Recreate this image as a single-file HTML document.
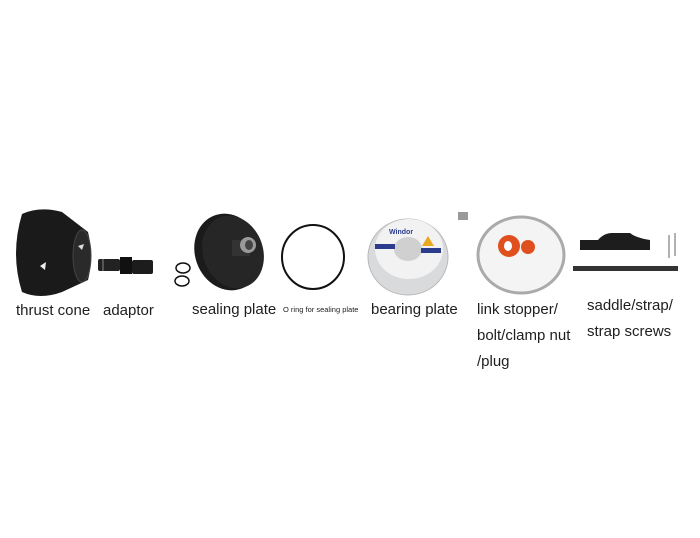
<!DOCTYPE html>
<html><head><meta charset="utf-8"><style>
html,body{margin:0;padding:0;background:#fff;}
body{width:700px;height:538px;position:relative;overflow:hidden;font-family:"Liberation Sans",sans-serif;color:#1e1e1e;}
.t{position:absolute;font-size:15px;white-space:nowrap;}
svg{position:absolute;left:0;top:0;}
</style></head><body>
<svg width="700" height="538">
<!-- thrust cone -->
<path d="M22 214 Q40 206 62 212 L88 232 Q94 256 88 280 L62 292 Q40 300 22 292 Q10 254 22 214Z" fill="#1a1a1a"/>
<ellipse cx="82" cy="256" rx="9" ry="26" fill="#2a2a2a" stroke="#444"/>
<path d="M40 266 L46 262 L45 270Z" fill="#eee"/>
<path d="M78 246 L84 244 L82 250Z" fill="#ddd"/>
<!-- adaptor -->
<rect x="98" y="259" width="22" height="12" rx="2" fill="#222"/>
<rect x="120" y="257" width="12" height="17" fill="#111"/>
<rect x="132" y="260" width="21" height="14" rx="2" fill="#1c1c1c"/>
<line x1="103" y1="259" x2="103" y2="271" stroke="#888"/>
<!-- o-rings -->
<ellipse cx="183" cy="268" rx="7" ry="5" fill="none" stroke="#111" stroke-width="1.5"/>
<ellipse cx="182" cy="281" rx="7" ry="5" fill="none" stroke="#111" stroke-width="1.5"/>
<!-- sealing plate -->
<ellipse cx="228" cy="252" rx="33" ry="39" transform="rotate(-20 228 252)" fill="#1b1b1b"/>
<ellipse cx="233" cy="252" rx="30" ry="37" transform="rotate(-20 233 252)" fill="#262626"/>
<rect x="232" y="240" width="18" height="16" fill="#333"/>
<ellipse cx="248" cy="245" rx="8" ry="8" fill="#9a9a9a"/>
<ellipse cx="249" cy="245" rx="4" ry="5" fill="#444"/>
<!-- o ring -->
<ellipse cx="313" cy="257" rx="31" ry="32" fill="none" stroke="#111" stroke-width="2"/>
<!-- bearing plate -->
<ellipse cx="408" cy="257" rx="40" ry="38" fill="#d8dadc" stroke="#b8b8b8"/>
<ellipse cx="409" cy="249" rx="34" ry="30" fill="#f2f2f2"/>
<ellipse cx="408" cy="249" rx="14" ry="12" fill="#d0d0d0"/>
<rect x="375" y="244" width="20" height="5" fill="#2b3c8c"/>
<rect x="421" y="248" width="20" height="5" fill="#2b3c8c"/>
<path d="M428 236 L434 246 L422 246Z" fill="#e8a820"/>
<text x="389" y="234" font-size="7" font-weight="bold" fill="#2b3c8c" font-family="Liberation Sans">Windor</text>
<!-- bolts -->
<rect x="458" y="212" width="10" height="8" fill="#999"/>
<!-- link stopper ring -->
<ellipse cx="521" cy="255" rx="43" ry="38" fill="#f4f4f4" stroke="#aaa" stroke-width="3"/>
<circle cx="509" cy="246" r="11" fill="#e0501e"/>
<ellipse cx="508" cy="246" rx="4" ry="5" fill="#fff"/>
<circle cx="528" cy="247" r="7" fill="#e0501e"/>
<!-- saddle -->
<path d="M580 240 L598 240 Q604 233 612 233 L630 233 Q636 238 650 240 L650 250 L580 250Z" fill="#1d1d1d"/>
<line x1="669" y1="235" x2="669" y2="258" stroke="#999" stroke-width="1.5"/>
<line x1="675" y1="233" x2="675" y2="256" stroke="#999" stroke-width="1.5"/>
<rect x="573" y="266" width="105" height="5" fill="#333"/>
</svg>
<div class="t" style="left:16px;top:302px;">thrust cone</div>
<div class="t" style="left:103px;top:302px;">adaptor</div>
<div class="t" style="left:192px;top:301px;">sealing plate</div>
<div class="t" style="left:283px;top:305px;font-size:7.5px;">O ring for sealing plate</div>
<div class="t" style="left:371px;top:301px;">bearing plate</div>
<div class="t" style="left:477px;top:301px;">link stopper/</div>
<div class="t" style="left:477px;top:327px;">bolt/clamp nut</div>
<div class="t" style="left:477px;top:353px;">/plug</div>
<div class="t" style="left:587px;top:297px;">saddle/strap/</div>
<div class="t" style="left:587px;top:323px;">strap screws</div>
</body></html>
